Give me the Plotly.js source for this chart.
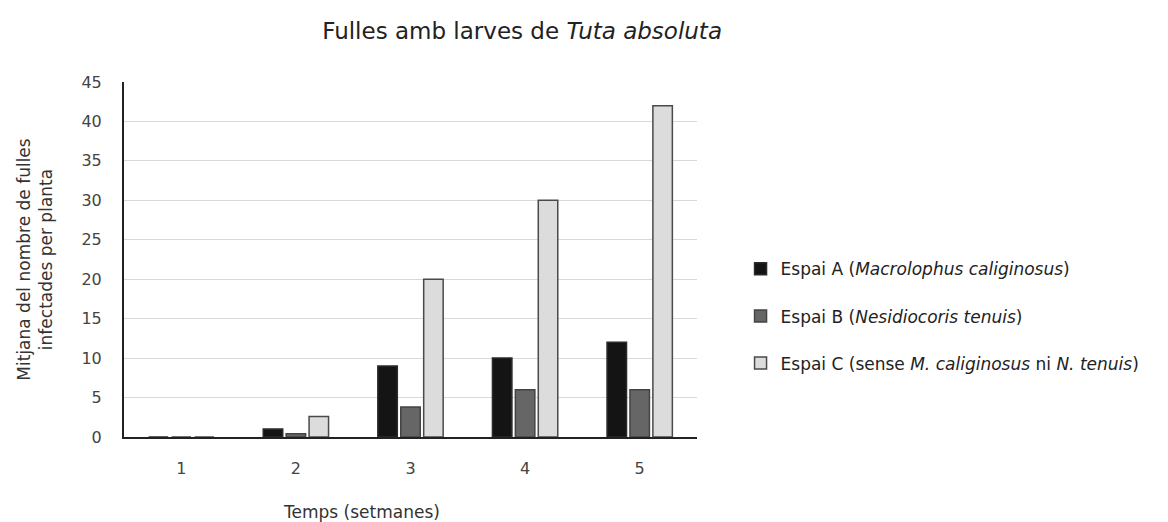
<!DOCTYPE html>
<html>
<head>
<meta charset="utf-8">
<script src="https://cdn.plot.ly/plotly-3.0.1.min.js"></script>
<style>html,body{margin:0;padding:0;background:#fff;}#chart{width:1168px;height:522px;}</style>
</head>
<body>
<div id="chart"></div>
<script>
const weeks = ["1", "2", "3", "4", "5"];
const seriesNames = [
  "Espai A (<i>Macrolophus caliginosus</i>)",
  "Espai B (<i>Nesidiocoris tenuis</i>)",
  "Espai C (sense <i>M. caliginosus</i> ni <i>N. tenuis</i>)"
];
const espaiA = [0, 1, 9, 10, 12];
const espaiB = [0, 0.4, 3.8, 6, 6];
const espaiC = [0, 2.6, 20, 30, 42];
const yTicks = [0, 5, 10, 15, 20, 25, 30, 35, 40, 45];

const fills = ["#141414", "#666666", "#dcdcdc"];
const lines = ["#2a2a2a", "#444444", "#4a4a4a"];
const vals = [espaiA, espaiB, espaiC];

const traces = vals.map((v, i) => ({
  type: "bar",
  x: weeks,
  y: v,
  name: seriesNames[i],
  legendgroup: "g" + i,
  marker: { color: fills[i], line: { color: lines[i], width: 1.5 } },
  hoverinfo: "none"
}));

const FONT = "DejaVu Sans, Verdana, sans-serif";

const layout = {
  width: 1168,
  height: 522,
  paper_bgcolor: "#ffffff",
  plot_bgcolor: "#ffffff",
  font: { family: FONT, size: 16, color: "#333333" },
  margin: { l: 124, r: 471, t: 82, b: 85 },
  title: {
    text: "Fulles amb larves de <i>Tuta absoluta</i>",
    font: { family: FONT, size: 23, color: "#222222" },
    x: 0.447, xanchor: "center", y: 0.94, yanchor: "middle"
  },
  barmode: "group",
  bargap: 0.40,
  bargroupgap: 0.15,
  xaxis: {
    type: "category",
    showline: true, linecolor: "#222222", linewidth: 2,
    ticks: "", tickfont: { size: 16, color: "#444444" },
    ticklabelstandoff: 16,
    automargin: false
  },
  yaxis: {
    range: [0, 45],
    tickvals: yTicks,
    ticktext: yTicks.map(String),
    showline: true, linecolor: "#222222", linewidth: 2,
    showgrid: true, gridcolor: "#d9d9d9", gridwidth: 1,
    zeroline: false,
    ticks: "", tickfont: { size: 16, color: "#444444" },
    ticklabelstandoff: 17,
    title: { text: "Mitjana del nombre de fulles<br>infectades per planta", font: { size: 17, color: "#333333" }, standoff: 24 },
    automargin: false
  },
  annotations: [{
    text: "Temps (setmanes)",
    xref: "paper", yref: "paper",
    x: 0.415, y: -0.211, xanchor: "center", yanchor: "middle",
    showarrow: false,
    font: { family: FONT, size: 17, color: "#333333" }
  }],
  showlegend: true,
  legend: {
    x: 1.076, xanchor: "left",
    y: 0.34, yanchor: "middle",
    traceorder: "grouped",
    tracegroupgap: 22,
    font: { family: FONT, size: 17, color: "#222222" },
    itemwidth: 30
  }
};

Plotly.newPlot("chart", traces, layout, { staticPlot: true, displayModeBar: false });
</script>
</body>
</html>
